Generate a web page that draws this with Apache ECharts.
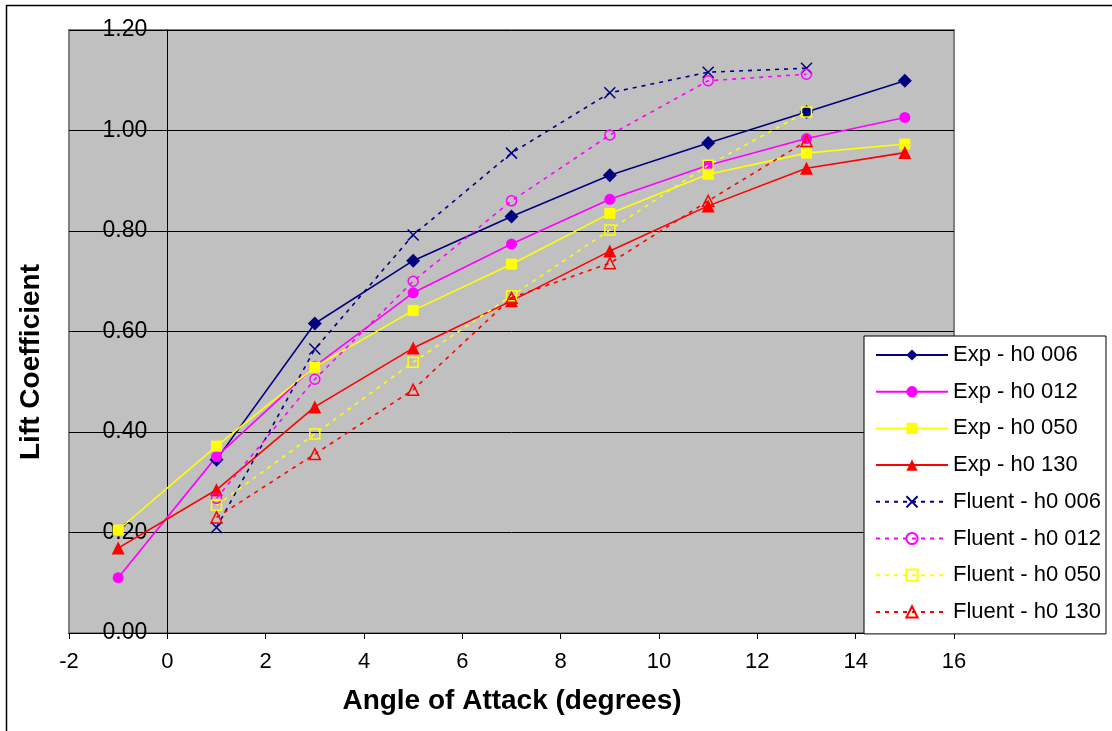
<!DOCTYPE html>
<html>
<head>
<meta charset="utf-8">
<script src="https://cdn.jsdelivr.net/npm/echarts@6/dist/echarts.min.js"></script>
<style>
  html, body { margin: 0; padding: 0; background: #fff; }
  #chart { width: 1112px; height: 731px; }
</style>
</head>
<body>
<div id="chart"></div>
<script>
// Angle of attack (degrees) for the experimental and CFD runs
const angleExp = [-1, 1, 3, 5, 7, 9, 11, 13, 15];
const angleCfd = [1, 3, 5, 7, 9, 11, 13];

// Experimental lift coefficients by ground clearance h0
const exp006 = [null, 0.345, 0.616, 0.741, 0.829, 0.911, 0.975, 1.037, 1.099];
const exp012 = [0.110, 0.351, 0.531, 0.677, 0.774, 0.863, 0.931, 0.984, 1.026];
const exp050 = [0.205, 0.372, 0.529, 0.642, 0.734, 0.835, 0.913, 0.955, 0.973];
const exp130 = [0.169, 0.285, 0.450, 0.567, 0.661, 0.760, 0.850, 0.925, 0.956];

// Fluent (CFD) lift coefficients by ground clearance h0
const cfd006 = [0.210, 0.565, 0.792, 0.955, 1.075, 1.116, 1.124];
const cfd012 = [0.268, 0.505, 0.700, 0.860, 0.991, 1.099, 1.112];
const cfd050 = [0.254, 0.396, 0.539, 0.671, 0.802, 0.931, 1.037];
const cfd130 = [0.230, 0.356, 0.484, 0.667, 0.736, 0.860, 0.979];

const seriesNames = [
  'Exp - h0 006', 'Exp - h0 012', 'Exp - h0 050', 'Exp - h0 130',
  'Fluent - h0 006', 'Fluent - h0 012', 'Fluent - h0 050', 'Fluent - h0 130'
];

const X_MIN = -2, X_MAX = 16;
const FONT = '"Liberation Sans", Arial, sans-serif';
const NAVY = '#000080', MAGENTA = '#FF00FF', YELLOW = '#FFFF00', RED = '#FF0000';
const CROSS = 'path://M0,0L10,10M10,0L0,10';

const GRID_LEFT = 69, GRID_RIGHT = 158, CHART_W = 1112;
const plotWidth = CHART_W - GRID_LEFT - GRID_RIGHT;
// shift the value axis so it sits on x = 0, labels and ticks included
const yAxisShift = -plotWidth * (0 - X_MIN) / (X_MAX - X_MIN);

function pairs(xs, ys) {
  const out = [];
  xs.forEach((x, i) => { if (ys[i] != null) out.push([x, ys[i]]); });
  return out;
}

function expSeries(name, xs, ys, color, symbol, size) {
  return {
    name, type: 'line', data: pairs(xs, ys),
    symbol, symbolSize: size, showAllSymbol: true,
    lineStyle: { color, width: 1.6, type: 'solid' },
    itemStyle: { color, borderColor: color, borderWidth: 0 },
    emphasis: { disabled: true },
    z: 3
  };
}

function cfdSeries(name, xs, ys, color, symbol, size) {
  return {
    name, type: 'line', data: pairs(xs, ys),
    symbol, symbolSize: size, showAllSymbol: true,
    lineStyle: { color, width: 1.6, type: [4, 5] },
    itemStyle: { color: 'transparent', borderColor: color, borderWidth: 1.5 },
    emphasis: { disabled: true },
    z: 4
  };
}

const chart = echarts.init(document.getElementById('chart'), null, { renderer: 'canvas' });

chart.setOption({
  animation: false,
  backgroundColor: '#ffffff',
  textStyle: { fontFamily: FONT },
  grid: {
    left: GRID_LEFT, right: GRID_RIGHT, top: 30, bottom: 98,
    show: true, backgroundColor: '#C0C0C0',
    borderColor: '#808080', borderWidth: 2
  },
  xAxis: {
    type: 'value', min: X_MIN, max: X_MAX, interval: 2,
    axisLine: { show: true, onZero: false, lineStyle: { color: '#000', width: 1 } },
    axisTick: { show: true, length: 6, lineStyle: { color: '#000' } },
    axisLabel: { color: '#000', fontSize: 22, fontFamily: FONT, margin: 18 },
    splitLine: { show: false }
  },
  yAxis: {
    type: 'value', min: 0, max: 1.2, interval: 0.2,
    offset: yAxisShift,
    axisLine: { show: true, onZero: false, lineStyle: { color: '#000', width: 1 } },
    axisTick: { show: true, length: 6, lineStyle: { color: '#000' } },
    axisLabel: {
      color: '#000', fontSize: 23, fontFamily: FONT, margin: 20,
      formatter: v => v.toFixed(2)
    },
    splitLine: { show: true, lineStyle: { color: '#000', width: 1 } }
  },
  legend: {
    orient: 'vertical',
    left: 864, top: 336,
    padding: [7, 5, 10, 11],
    itemWidth: 72, itemHeight: 14, itemGap: 12.7,
    backgroundColor: '#ffffff', borderColor: '#000', borderWidth: 1,
    textStyle: { color: '#000', fontSize: 22, fontFamily: FONT, lineHeight: 24 },
    data: seriesNames,
    selectedMode: false
  },
  graphic: [
    { type: 'line', shape: { x1: 6, y1: 5.5, x2: 1112, y2: 5.5 }, style: { stroke: '#000', lineWidth: 1.5 } },
    { type: 'line', shape: { x1: 6.5, y1: 5, x2: 6.5, y2: 731 }, style: { stroke: '#000', lineWidth: 1.5 } },
    {
      type: 'text', x: 31, y: 362, rotation: Math.PI / 2,
      style: { text: 'Lift Coefficient', font: 'bold 28px ' + FONT, fill: '#000', align: 'center', verticalAlign: 'middle' }
    },
    {
      type: 'text', x: 512, y: 701,
      style: { text: 'Angle of Attack (degrees)', font: 'bold 28px ' + FONT, fill: '#000', align: 'center', verticalAlign: 'middle' }
    }
  ],
  series: [
    expSeries(seriesNames[0], angleExp, exp006, NAVY, 'diamond', 14),
    expSeries(seriesNames[1], angleExp, exp012, MAGENTA, 'circle', 11),
    expSeries(seriesNames[2], angleExp, exp050, YELLOW, 'rect', 11),
    expSeries(seriesNames[3], angleExp, exp130, RED, 'triangle', 13),
    cfdSeries(seriesNames[4], angleCfd, cfd006, NAVY, CROSS, 11),
    cfdSeries(seriesNames[5], angleCfd, cfd012, MAGENTA, 'circle', 10),
    cfdSeries(seriesNames[6], angleCfd, cfd050, YELLOW, 'rect', 10),
    cfdSeries(seriesNames[7], angleCfd, cfd130, RED, 'triangle', 11)
  ]
});
</script>
</body>
</html>
